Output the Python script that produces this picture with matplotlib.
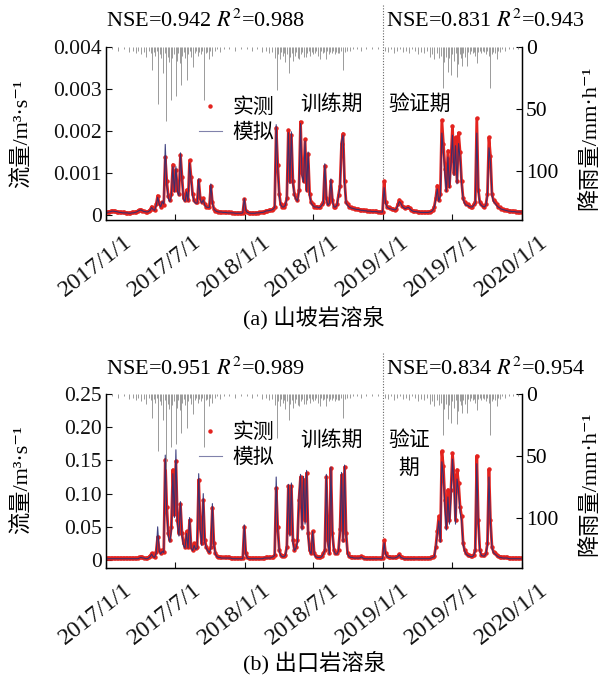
import numpy as np
import pandas as pd
import matplotlib
matplotlib.use('Agg')
import matplotlib.pyplot as plt
from matplotlib.lines import Line2D
import matplotlib.transforms as mtransforms

plt.rcParams['font.family'] = ['Liberation Serif', 'DejaVu Serif', 'Noto Sans CJK SC']
plt.rcParams['mathtext.fontset'] = 'stix'
plt.rcParams['axes.unicode_minus'] = False

# ---------------- data ----------------
start_date = '2017-01-01'
step_days = 4

# panel (a) hillslope spring, flow in 1e-4 m3/s, one value every 4 days
obs_a_2017 = [0.6, 0.7, 0.8, 0.9, 1.0, 1.0, 0.9, 0.8, 0.7, 0.7,
              0.6, 0.6, 0.6, 0.5, 0.5, 0.5, 0.5, 0.6, 0.6, 0.7,
              0.8, 1.0, 1.2, 1.3, 1.0, 0.9, 0.8, 0.8, 0.9, 1.2,
              2.0, 1.4, 1.2, 2.5, 4.6, 2.8, 2.0, 3.0, 2.4, 13.8,
              8.0, 4.5, 3.5, 5.0, 12.0, 6.0, 10.7, 6.0, 5.0, 14.3,
              9.0, 4.0, 3.5, 6.0, 3.5, 13.0, 9.0, 5.0, 3.5, 3.0,
              3.0, 8.3, 4.0, 3.0, 4.0, 2.5, 2.0, 2.0, 2.0, 7.0,
              3.0, 1.5, 1.0, 0.9, 0.8, 0.8, 0.7, 0.7, 0.7, 0.6,
              0.6, 0.6, 0.6, 0.5, 0.5, 0.5, 0.5, 0.5, 0.5, 0.5,
              0.5, 3.7]
obs_a_2018 = [1.0, 0.6, 0.5, 0.5, 0.5, 0.5, 0.5, 0.5, 0.5, 0.6,
              0.6, 0.7, 0.8, 1.0, 1.0, 1.1, 1.2, 1.2, 1.5, 2.0,
              20.8, 12.0, 5.0, 2.5, 2.0, 2.0, 2.5, 4.0, 20.2, 8.0,
              19.0, 8.0, 5.0, 4.0, 3.5, 6.0, 22.2, 10.0, 8.0, 18.0,
              6.0, 14.5, 5.0, 3.0, 2.5, 2.0, 2.0, 2.0, 1.8, 2.0,
              2.5, 3.0, 11.7, 4.0, 2.5, 3.0, 8.2, 3.5, 2.0, 2.0,
              2.5, 4.8, 7.0, 17.0, 19.4, 8.0, 3.0, 2.5, 2.0, 1.8,
              1.7, 1.6, 1.5, 1.4, 1.4, 1.3, 1.2, 1.2, 1.1, 1.1,
              1.0, 1.0, 1.0, 0.9, 0.9, 0.9, 0.9, 0.8, 0.8, 0.8,
              0.8]
obs_a_2019 = [8.1, 3.0, 2.0, 1.8, 1.6, 1.5, 1.4, 1.3, 1.5, 2.5,
              3.6, 3.0, 2.2, 1.8, 1.6, 1.8, 2.0, 1.6, 1.2, 1.0,
              0.9, 0.9, 0.8, 0.8, 0.7, 0.7, 0.7, 0.7, 0.7, 0.7,
              0.8, 0.9, 1.2, 2.0, 4.0, 7.0, 3.5, 5.0, 22.6, 17.0,
              11.0, 6.0, 15.3, 7.0, 13.0, 21.2, 10.0, 18.5, 8.0, 19.6,
              15.0, 8.0, 4.0, 3.0, 2.5, 2.5, 2.2, 2.0, 2.0, 2.5,
              3.0, 23.0, 6.0, 3.0, 2.5, 2.2, 2.0, 2.5, 5.0, 18.5,
              14.0, 5.0, 3.5, 3.0, 2.5, 2.0, 1.8, 1.5, 1.4, 1.3,
              1.2, 1.1, 1.0, 1.0, 0.9, 0.9, 0.9, 0.8, 0.8, 0.8,
              0.8]
sim_a_2017 = [0.5, 0.6, 0.7, 0.8, 0.9, 0.9, 0.8, 0.8, 0.7, 0.6,
              0.6, 0.5, 0.5, 0.5, 0.5, 0.4, 0.4, 0.5, 0.5, 0.6,
              0.7, 0.9, 1.1, 1.2, 1.0, 0.8, 0.8, 0.7, 0.8, 1.1,
              1.8, 1.3, 1.1, 2.2, 4.2, 2.6, 1.9, 3.2, 2.6, 16.8,
              7.0, 4.0, 3.2, 4.6, 11.5, 5.5, 11.5, 5.6, 4.6, 14.8,
              8.0, 3.8, 3.2, 5.5, 3.3, 12.4, 8.0, 4.6, 3.2, 2.8,
              2.8, 8.6, 3.6, 2.8, 3.6, 2.3, 1.9, 1.8, 1.8, 7.4,
              2.8, 1.4, 1.0, 0.8, 0.7, 0.7, 0.7, 0.6, 0.6, 0.6,
              0.5, 0.5, 0.5, 0.5, 0.5, 0.4, 0.4, 0.4, 0.4, 0.4,
              0.5, 3.9]
sim_a_2018 = [1.1, 0.6, 0.5, 0.4, 0.4, 0.4, 0.4, 0.5, 0.5, 0.5,
              0.6, 0.6, 0.7, 0.9, 1.0, 1.0, 1.1, 1.2, 1.4, 1.8,
              21.5, 11.0, 4.6, 2.4, 1.9, 1.9, 2.3, 3.8, 19.6, 7.5,
              19.8, 7.4, 4.6, 3.8, 3.3, 5.6, 21.8, 9.4, 7.8, 17.6,
              5.6, 15.0, 4.6, 2.8, 2.3, 1.9, 1.9, 1.9, 1.7, 1.9,
              2.3, 2.8, 12.2, 3.8, 2.3, 2.8, 8.6, 3.3, 1.9, 1.9,
              2.3, 4.5, 6.6, 17.5, 19.0, 7.4, 2.8, 2.3, 1.9, 1.7,
              1.6, 1.5, 1.4, 1.3, 1.3, 1.2, 1.1, 1.1, 1.0, 1.0,
              0.9, 0.9, 0.9, 0.8, 0.8, 0.8, 0.8, 0.7, 0.7, 0.7,
              0.7]
sim_a_2019 = [6.5, 2.8, 1.9, 1.6, 1.5, 1.4, 1.3, 1.2, 1.4, 2.2,
              3.2, 2.8, 2.0, 1.7, 1.5, 1.7, 1.8, 1.5, 1.1, 0.9,
              0.8, 0.8, 0.7, 0.7, 0.6, 0.6, 0.6, 0.6, 0.6, 0.6,
              0.7, 0.8, 1.1, 1.8, 3.6, 6.2, 3.2, 4.6, 19.5, 15.0,
              10.0, 5.6, 13.8, 6.5, 12.0, 19.0, 9.4, 16.5, 7.4, 17.0,
              13.5, 7.4, 3.8, 2.8, 2.3, 2.3, 2.0, 1.9, 1.9, 2.3,
              2.8, 19.5, 5.6, 2.8, 2.3, 2.0, 1.9, 2.3, 4.6, 16.0,
              12.5, 4.6, 3.2, 2.8, 2.3, 1.9, 1.7, 1.4, 1.3, 1.2,
              1.1, 1.0, 0.9, 0.9, 0.8, 0.8, 0.8, 0.7, 0.7, 0.7,
              0.7]

# panel (b) outlet spring, flow in 1e-2 m3/s, one value every 4 days
obs_b_2017 = [0.3, 0.3, 0.3, 0.3, 0.3, 0.3, 0.3, 0.3, 0.3, 0.3,
              0.3, 0.3, 0.3, 0.3, 0.3, 0.3, 0.3, 0.3, 0.3, 0.3,
              0.3, 0.3, 0.4, 0.5, 0.4, 0.3, 0.3, 0.3, 0.4, 0.6,
              1.0, 0.6, 0.5, 1.2, 3.5, 1.5, 1.0, 1.5, 1.2, 15.1,
              8.0, 4.0, 3.0, 5.0, 13.6, 7.0, 14.9, 6.0, 4.0, 8.4,
              4.0, 2.5, 2.0, 4.3, 2.0, 6.0, 2.0, 1.5, 2.5, 1.8,
              2.0, 12.1, 5.0, 2.5, 9.0, 3.0, 2.0, 1.5, 1.2, 2.0,
              7.9, 2.5, 1.0, 0.6, 0.5, 0.5, 0.4, 0.4, 0.4, 0.4,
              0.4, 0.4, 0.3, 0.3, 0.3, 0.3, 0.3, 0.3, 0.3, 0.3,
              0.3, 5.0]
obs_b_2018 = [1.0, 0.4, 0.3, 0.3, 0.3, 0.3, 0.3, 0.3, 0.3, 0.3,
              0.3, 0.3, 0.3, 0.4, 0.4, 0.4, 0.4, 0.4, 0.5, 0.8,
              10.8, 5.0, 1.5, 0.8, 0.6, 0.6, 0.8, 2.0, 11.1, 4.0,
              11.1, 3.0, 1.5, 2.0, 3.0, 9.1, 12.5, 5.0, 12.1, 6.0,
              13.1, 4.0, 1.5, 1.0, 4.3, 1.0, 0.6, 0.5, 0.5, 0.5,
              0.6, 1.0, 1.5, 12.5, 3.0, 1.0, 13.8, 4.0, 1.5, 1.0,
              1.0, 1.5, 4.6, 12.8, 3.0, 14.0, 4.0, 1.0, 0.6, 0.5,
              0.5, 0.4, 0.4, 0.4, 0.4, 0.4, 0.6, 0.4, 0.3, 0.3,
              0.3, 0.3, 0.3, 0.3, 0.3, 0.3, 0.3, 0.3, 0.3, 0.3,
              0.3]
obs_b_2019 = [3.0, 1.0, 0.6, 0.5, 0.5, 0.4, 0.4, 0.4, 0.5, 0.6,
              0.9, 0.5, 0.4, 0.3, 0.3, 0.3, 0.3, 0.3, 0.3, 0.3,
              0.3, 0.3, 0.3, 0.3, 0.3, 0.3, 0.3, 0.3, 0.3, 0.3,
              0.3, 0.4, 0.5, 0.6, 2.0, 4.3, 6.6, 3.0, 16.4, 14.1,
              9.1, 5.0, 10.6, 6.0, 10.6, 16.1, 12.8, 6.0, 13.6, 11.6,
              8.0, 6.6, 2.6, 1.5, 1.0, 0.8, 0.7, 0.6, 0.6, 0.8,
              1.5, 15.7, 6.0, 1.5, 0.8, 0.7, 0.7, 1.0, 2.5, 13.7,
              6.0, 2.0, 1.2, 1.0, 0.8, 0.6, 0.5, 0.5, 0.4, 0.4,
              0.4, 0.4, 0.3, 0.3, 0.3, 0.3, 0.3, 0.3, 0.3, 0.3,
              0.3]
sim_b_2017 = [0.2, 0.2, 0.2, 0.2, 0.2, 0.2, 0.2, 0.2, 0.2, 0.2,
              0.2, 0.2, 0.2, 0.2, 0.2, 0.2, 0.2, 0.2, 0.2, 0.2,
              0.2, 0.2, 0.3, 0.4, 0.3, 0.3, 0.2, 0.2, 0.3, 0.5,
              0.9, 0.5, 0.4, 1.0, 5.0, 1.4, 0.9, 1.3, 1.1, 15.8,
              7.0, 3.6, 2.7, 4.5, 13.0, 6.4, 16.6, 5.4, 3.6, 8.8,
              3.6, 2.2, 1.8, 4.0, 1.8, 6.4, 1.8, 1.4, 2.2, 1.6,
              1.8, 13.0, 4.5, 2.2, 10.0, 2.7, 1.8, 1.4, 1.1, 1.8,
              8.5, 2.2, 0.9, 0.5, 0.4, 0.4, 0.3, 0.3, 0.3, 0.3,
              0.3, 0.3, 0.3, 0.2, 0.2, 0.2, 0.2, 0.2, 0.2, 0.2,
              0.2, 5.3]
sim_b_2018 = [0.9, 0.3, 0.2, 0.2, 0.2, 0.2, 0.2, 0.2, 0.2, 0.2,
              0.2, 0.2, 0.3, 0.3, 0.3, 0.3, 0.3, 0.4, 0.5, 0.7,
              12.5, 4.5, 1.4, 0.7, 0.5, 0.5, 0.7, 1.8, 11.4, 3.6,
              11.6, 2.7, 1.4, 1.8, 2.7, 9.6, 12.9, 4.5, 12.6, 5.4,
              13.5, 3.6, 1.4, 0.9, 4.3, 0.9, 0.5, 0.4, 0.4, 0.4,
              0.5, 0.9, 1.4, 12.9, 2.7, 0.9, 14.0, 3.6, 1.4, 0.9,
              0.9, 1.4, 4.3, 13.2, 2.7, 14.3, 3.6, 0.9, 0.5, 0.4,
              0.4, 0.3, 0.3, 0.3, 0.3, 0.3, 0.5, 0.3, 0.2, 0.2,
              0.2, 0.2, 0.2, 0.2, 0.2, 0.2, 0.2, 0.2, 0.2, 0.2,
              0.2]
sim_b_2019 = [2.6, 0.9, 0.5, 0.4, 0.4, 0.3, 0.3, 0.3, 0.4, 0.5,
              0.8, 0.4, 0.3, 0.2, 0.2, 0.2, 0.2, 0.2, 0.2, 0.2,
              0.2, 0.2, 0.2, 0.2, 0.2, 0.2, 0.2, 0.2, 0.2, 0.2,
              0.2, 0.3, 0.4, 0.5, 1.8, 3.9, 5.9, 2.7, 14.8, 12.7,
              8.2, 4.5, 9.5, 5.4, 9.5, 15.2, 11.5, 5.4, 12.2, 10.4,
              7.2, 5.9, 2.3, 1.4, 0.9, 0.7, 0.6, 0.5, 0.5, 0.7,
              1.4, 14.5, 5.4, 1.4, 0.7, 0.6, 0.6, 0.9, 2.2, 12.5,
              5.4, 1.8, 1.1, 0.9, 0.7, 0.5, 0.4, 0.4, 0.3, 0.3,
              0.3, 0.3, 0.2, 0.2, 0.2, 0.2, 0.2, 0.2, 0.2, 0.2,
              0.2]

# rainfall (mm/h), day offset from 2017-01-01
rain_day = [15, 32, 48, 60, 70, 78, 85, 92, 100, 106, 112, 118, 122, 126, 130, 134, 138, 142,
            146, 151, 155, 159, 163, 167, 171, 175, 179, 183, 187, 190, 194, 197, 201, 205,
            209, 212, 216, 220, 224, 229, 233, 237, 241, 245, 249, 253, 258, 262, 266, 270,
            274, 280, 286, 293, 300, 310, 325, 340, 355,
            372, 385, 398, 410, 420, 430, 438, 444, 449, 453, 457, 461, 465, 468, 472, 476,
            481, 485, 489, 493, 497, 501, 505, 508, 512, 516, 520, 526, 530, 534, 537, 542,
            546, 550, 554, 558, 563, 566, 570, 574, 578, 582, 586, 590, 594, 598, 602, 606,
            610, 614, 618, 624, 628, 634, 642, 650, 660, 672, 684, 700, 715,
            735, 742, 750, 758, 766, 774, 782, 790, 798, 806, 814, 822, 830, 838, 846, 852,
            858, 864, 870, 876, 882, 887, 891, 895, 900, 904, 908, 912, 916, 920, 923, 927,
            931, 935, 937, 941, 945, 949, 953, 957, 961, 965, 969, 972, 976, 980, 984, 988,
            992, 996, 1000, 1004, 1008, 1011, 1015, 1019, 1023, 1028, 1032, 1036, 1042, 1050,
            1060, 1070, 1085]
rain_mm = [2, 3, 2, 4, 3, 5, 3, 6, 4, 8, 3, 5, 19, 4, 7, 3, 46, 6,
           9, 21, 5, 60, 8, 12, 43, 9, 6, 40, 11, 5, 13, 31, 7, 4,
           9, 27, 6, 3, 8, 16, 5, 3, 7, 4, 6, 3, 43, 5, 4, 10,
           3, 7, 3, 2, 4, 2, 2, 3, 2,
           2, 3, 2, 4, 3, 5, 4, 9, 35, 6, 10, 4, 7, 5, 12, 6,
           21, 8, 5, 11, 7, 4, 9, 10, 6, 4, 8, 8, 5, 3, 7, 4,
           6, 5, 3, 7, 10, 3, 5, 4, 10, 3, 6, 4, 5, 3, 6, 4,
           5, 5, 3, 19, 4, 3, 3, 2, 2, 3, 2, 2, 2,
           3, 4, 2, 5, 3, 2, 4, 3, 5, 2, 3, 6, 4, 5, 3, 8,
           6, 10, 5, 9, 7, 33, 12, 8, 20, 9, 23, 6, 11, 5, 24, 14,
           6, 9, 15, 5, 8, 15, 4, 6, 3, 5, 4, 7, 13, 4, 3, 5,
           3, 4, 6, 3, 7, 33, 6, 4, 5, 10, 3, 4, 2, 3,
           2, 2, 2]

x_tick_labels = ['2017/1/1', '2017/7/1', '2018/1/1', '2018/7/1', '2019/1/1', '2019/7/1', '2020/1/1']
rain_ticks = [0, 50, 100]
split_date = '2019/1/1'

panels = [
    dict(obs=np.array(obs_a_2017 + obs_a_2018 + obs_a_2019) * 1e-4,
         sim=np.array(sim_a_2017 + sim_a_2018 + sim_a_2019) * 1e-4,
         yticks=[0, 0.001, 0.002, 0.003, 0.004],
         yticklabels=['0', '0.001', '0.002', '0.003', '0.004'],
         ylim=(-0.00012, 0.004),
         nse_train='NSE=0.942 $R^2$=0.988', nse_valid='NSE=0.831 $R^2$=0.943',
         valid_label='验证期', caption='(a) 山坡岩溶泉'),
    dict(obs=np.array(obs_b_2017 + obs_b_2018 + obs_b_2019) * 1e-2,
         sim=np.array(sim_b_2017 + sim_b_2018 + sim_b_2019) * 1e-2,
         yticks=[0, 0.05, 0.10, 0.15, 0.20, 0.25],
         yticklabels=['0', '0.05', '0.10', '0.15', '0.20', '0.25'],
         ylim=(-0.012, 0.25),
         nse_train='NSE=0.951 $R^2$=0.989', nse_valid='NSE=0.834 $R^2$=0.954',
         valid_label='验证\n期', caption='(b) 出口岩溶泉'),
]
flow_ylabel = '流量/m³·s⁻¹'
rain_ylabel = '降雨量/mm·h⁻¹'

# ---------------- layout (pixels) ----------------
W, H = 601, 679
fig = plt.figure(figsize=(W / 100, H / 100), dpi=100)

layout = [
    dict(box=(106, 47, 522, 220), nse_y=21, leg_y=96, train_xy=(332, 104), valid_xy=(420, 104),
         ylab_l=(22, 134), ylab_r=(590, 138), cap_y=318, vtop=5),
    dict(box=(106, 394, 522, 568), nse_y=369, leg_y=421, train_xy=(332, 440), valid_xy=(409, 454),
         ylab_l=(22, 480), ylab_r=(590, 484), cap_y=663, vtop=353),
]

def fx(x):
    return x / W

def fy(y):
    return 1 - y / H

dates = pd.date_range(start_date, periods=len(panels[0]['obs']), freq=f'{step_days}D')
rain_dates = pd.Timestamp(start_date) + pd.to_timedelta(rain_day, unit='D')
tick_dates = pd.to_datetime(x_tick_labels, format='%Y/%m/%d')
split = pd.to_datetime(split_date, format='%Y/%m/%d')

red = '#e3231f'
navy = '#2c2f74'
tick_fs = 15.5
serif_cjk = ['Liberation Serif', 'DejaVu Serif', 'Noto Sans CJK SC']
cjk = ['Noto Sans CJK SC', 'Liberation Serif']

for p, L in zip(panels, layout):
    l, t, r, b = L['box']
    ax = fig.add_axes([fx(l), fy(b), (r - l) / W, (b - t) / H])
    ax.plot(dates, p['obs'], '-', color=red, lw=2.0, zorder=2)
    ax.plot(dates, p['obs'], 'o', ms=3.2, color=red, mec='none', zorder=2)
    ax.plot(dates, p['sim'], '-', color=navy, lw=0.8, alpha=0.9, zorder=3)
    ax.set_xlim(tick_dates[0], tick_dates[-1])
    ax.set_ylim(*p['ylim'])
    ax.set_yticks(p['yticks'])
    ax.set_yticklabels(p['yticklabels'])
    ax.set_xticks(tick_dates)
    ax.set_xticklabels(x_tick_labels, rotation=38, ha='right', va='top', rotation_mode='anchor',
                       fontsize=17.5)
    ax.tick_params(axis='both', direction='in', length=4, width=0.8, colors='#111111')
    ax.tick_params(axis='y', labelsize=tick_fs, pad=3)
    ax.tick_params(axis='x', pad=8)
    off = mtransforms.ScaledTranslation(17 / 100, 0, fig.dpi_scale_trans)
    for lab in ax.get_xticklabels():
        lab.set_transform(lab.get_transform() + off)
    ax.spines['top'].set_visible(False)
    for s in ('left', 'bottom', 'right'):
        ax.spines[s].set_linewidth(1.0)

    ax2 = ax.twinx()
    ax2.vlines(rain_dates, 0, rain_mm, color='#8a8a8a', lw=0.6)
    ax2.set_ylim(140, 0)
    ax2.set_yticks(rain_ticks)
    ax2.tick_params(axis='y', direction='in', length=4, width=0.8, labelsize=tick_fs, pad=3)
    ax2.spines['top'].set_visible(False)
    ax2.set_xlim(tick_dates[0], tick_dates[-1])

    # train/validation split
    h = b - t
    ax.axvline(split, ymin=0, ymax=1 + (t - L['vtop']) / h, clip_on=False,
               color='#666666', lw=0.8, ls=(0, (1, 1.5)), zorder=1)

    # legend
    handles = [Line2D([], [], ls='none', marker='o', ms=3.2, color=red, mec='none'),
               Line2D([], [], color=navy, lw=0.8, alpha=0.6)]
    ax.legend(handles, ['实测', '模拟'], loc='upper left',
              bbox_to_anchor=(fx(199), fy(L['leg_y'])), bbox_transform=fig.transFigure,
              frameon=False, borderpad=0, borderaxespad=0, handlelength=1.1,
              handletextpad=0.5, labelspacing=0.15, prop={'family': cjk, 'size': 15})

    fig.text(fx(l), fy(L['nse_y']), p['nse_train'], ha='left', va='center', fontsize=16)
    fig.text(fx(386), fy(L['nse_y']), p['nse_valid'], ha='left', va='center', fontsize=16)
    fig.text(fx(L['train_xy'][0]), fy(L['train_xy'][1]), '训练期', ha='center', va='center',
             fontsize=15, family=cjk)
    fig.text(fx(L['valid_xy'][0]), fy(L['valid_xy'][1]), p['valid_label'], ha='center', va='center',
             fontsize=15, family=cjk, linespacing=1.3)
    fig.text(fx(L['ylab_l'][0]), fy(L['ylab_l'][1]), flow_ylabel, rotation=90,
             ha='center', va='center', fontsize=16, family=serif_cjk)
    fig.text(fx(L['ylab_r'][0]), fy(L['ylab_r'][1]), rain_ylabel, rotation=90,
             ha='center', va='center', fontsize=16, family=serif_cjk)
    fig.text(fx((l + r) / 2), fy(L['cap_y']), p['caption'], ha='center', va='center',
             fontsize=16, family=serif_cjk)

fig.savefig('out.png', dpi=100)
